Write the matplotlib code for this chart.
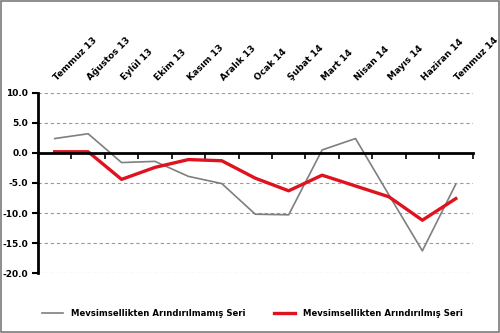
import matplotlib.pyplot as plt
import numpy as np
from matplotlib.patches import Rectangle
from matplotlib.transforms import ScaledTranslation

# Categories and the two series
months = ["Temmuz 13", "Ağustos 13", "Eylül 13", "Ekim 13", "Kasım 13", "Aralık 13",
          "Ocak 14", "Şubat 14", "Mart 14", "Nisan 14", "Mayıs 14", "Haziran 14", "Temmuz 14"]
raw_series = [2.4, 3.2, -1.6, -1.4, -3.9, -5.1, -10.2, -10.3, 0.5, 2.4, -7.0, -16.3, -5.2]
adj_series = [0.2, 0.2, -4.4, -2.4, -1.1, -1.3, -4.2, -6.3, -3.7, -5.5, -7.3, -11.2, -7.6]
raw_label = "Mevsimsellikten Arındırılmamış Seri"
adj_label = "Mevsimsellikten Arındırılmış Seri"
y_ticks = [10, 5, 0, -5, -10, -15, -20]

plt.rcParams['font.family'] = ['DejaVu Sans']
fs = 6.5

fig = plt.figure(figsize=(5, 3.33), dpi=100)
ax = fig.add_axes([0.076, 0.18, 0.869, 0.541])

x = np.arange(len(months))

# dashed grid (zero line drawn as the axis itself)
for v in y_ticks:
    if v != 0:
        ax.axhline(v, color="#9a9a9a", lw=0.8, ls=(0, (3, 2.5)), zorder=1)

ax.plot(x, raw_series, color="#7f7f7f", lw=1.2, label=raw_label, zorder=3)
ax.plot(x, adj_series, color="#e0121f", lw=2.4, label=adj_label, zorder=4)

ax.set_xlim(-0.5, len(months) - 0.5)
ax.set_ylim(-20, 10)

# axes look
for s in ["top", "right"]:
    ax.spines[s].set_visible(False)
ax.spines["left"].set_linewidth(2)
ax.spines["bottom"].set_linewidth(2)
ax.spines["bottom"].set_position(("data", 0))
ax.spines["bottom"].set_zorder(5)

ax.set_yticks(y_ticks)
ax.set_yticklabels([f"{v:.1f}" for v in y_ticks], fontsize=fs, fontweight="bold")
ax.tick_params(axis="y", direction="out", length=4, width=1.5, pad=3)

ax.set_xticks(x)
ax.set_xticks(np.arange(len(months) + 1) - 0.5, minor=True)
ax.set_xticklabels(months, fontsize=fs, fontweight="bold", rotation=45,
                   ha="left", va="bottom", rotation_mode="anchor")
ax.tick_params(axis="x", which="major", bottom=False, top=False,
               labelbottom=False, labeltop=True, pad=4)
ax.tick_params(axis="x", which="minor", bottom=True, direction="out",
               length=4, width=1.2)
shift = ScaledTranslation(4 / 100, 0, fig.dpi_scale_trans)
for lab in ax.get_xticklabels():
    lab.set_transform(lab.get_transform() + shift)

fig.legend(loc="center", bbox_to_anchor=(0.505, 1 - 313 / 333), ncol=2,
           frameon=False, handlelength=2.5, handletextpad=0.9,
           columnspacing=3.4, prop={"size": 6.1, "weight": "bold"})

# outer frame
fig.patches.append(Rectangle((0.001, 0.002), 0.997, 0.995, transform=fig.transFigure,
                             fill=False, edgecolor="#7a7a7a", lw=1.2))

fig.savefig("out.png", dpi=100)
